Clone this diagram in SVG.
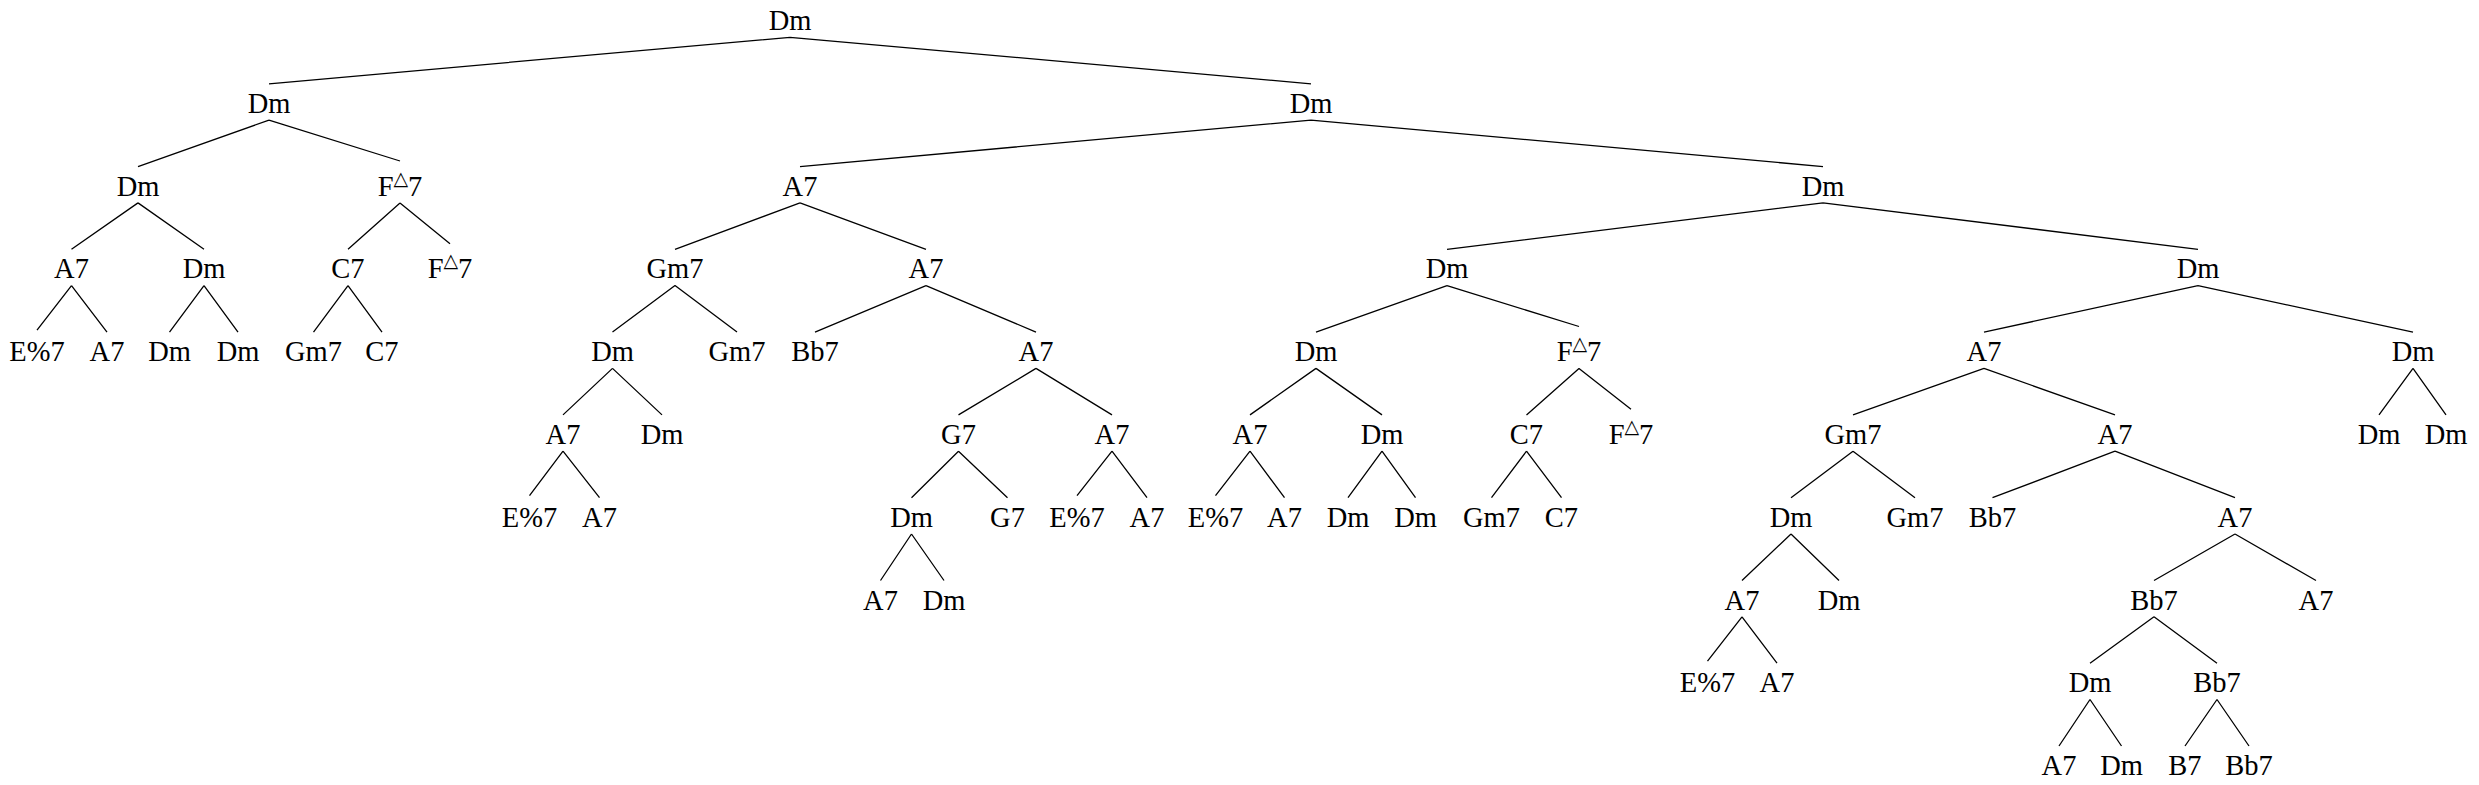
<svg xmlns="http://www.w3.org/2000/svg" width="2479" height="785" viewBox="0 0 2479 785">
<style>
.t{font-family:"Liberation Serif","Times New Roman",serif;font-size:28.5px;text-anchor:middle;fill:#000}
.sup{font-family:"DejaVu Sans",sans-serif;font-size:19px}
.e{stroke:#000;stroke-width:1.3;fill:none;stroke-linecap:butt}
</style>
<rect width="2479" height="785" fill="#fff"/>
<g id="connectors" class="e">
<path d="M790,37.3L269,83.8M790,37.3L1311,83.8"/>
<path d="M269,120.1L138,166.6M269,120.1L400,161"/>
<path d="M1311,120.1L800,166.6M1311,120.1L1823,166.6"/>
<path d="M138,202.9L71.5,249.3M138,202.9L204,249.3"/>
<path d="M400,202.9L348,249.3M400,202.9L450,243.7"/>
<path d="M800,202.9L675,249.3M800,202.9L926,249.3"/>
<path d="M1823,202.9L1447,249.3M1823,202.9L2198,249.3"/>
<path d="M71.5,285.6L37,330.1M71.5,285.6L107,332.1"/>
<path d="M204,285.6L169.5,332.1M204,285.6L238,332.1"/>
<path d="M348,285.6L313.5,332.1M348,285.6L382,332.1"/>
<path d="M675,285.6L612.5,332.1M675,285.6L737,332.1"/>
<path d="M926,285.6L815,332.1M926,285.6L1036,332.1"/>
<path d="M1447,285.6L1316,332.1M1447,285.6L1579,326.5"/>
<path d="M2198,285.6L1984,332.1M2198,285.6L2413,332.1"/>
<path d="M612.5,368.4L563,414.9M612.5,368.4L662,414.9"/>
<path d="M1036,368.4L958.5,414.9M1036,368.4L1112,414.9"/>
<path d="M1316,368.4L1250,414.9M1316,368.4L1382,414.9"/>
<path d="M1579,368.4L1526.5,414.9M1579,368.4L1631,409.3"/>
<path d="M1984,368.4L1853,414.9M1984,368.4L2115,414.9"/>
<path d="M2413,368.4L2379,414.9M2413,368.4L2446,414.9"/>
<path d="M563,451.2L529.5,495.7M563,451.2L599.5,497.7"/>
<path d="M958.5,451.2L911.5,497.7M958.5,451.2L1007.5,497.7"/>
<path d="M1112,451.2L1077,495.7M1112,451.2L1147,497.7"/>
<path d="M1250,451.2L1215.5,495.7M1250,451.2L1284.5,497.7"/>
<path d="M1382,451.2L1348,497.7M1382,451.2L1415.5,497.7"/>
<path d="M1526.5,451.2L1491.5,497.7M1526.5,451.2L1561.5,497.7"/>
<path d="M1853,451.2L1791,497.7M1853,451.2L1915,497.7"/>
<path d="M2115,451.2L1992.5,497.7M2115,451.2L2235,497.7"/>
<path d="M911.5,534L880.5,580.5M911.5,534L944,580.5"/>
<path d="M1791,534L1742,580.5M1791,534L1839,580.5"/>
<path d="M2235,534L2154,580.5M2235,534L2316,580.5"/>
<path d="M1742,616.8L1707.5,661.2M1742,616.8L1777,663.2"/>
<path d="M2154,616.8L2090,663.2M2154,616.8L2217,663.2"/>
<path d="M2090,699.5L2059,746M2090,699.5L2121.5,746"/>
<path d="M2217,699.5L2185,746M2217,699.5L2249,746"/>
</g>
<g id="n0"><text class="t" x="790" y="30">Dm</text></g>
<g id="n1"><text class="t" x="269" y="112.8">Dm</text></g>
<g id="n2"><text class="t" x="1311" y="112.8">Dm</text></g>
<g id="n3"><text class="t" x="138" y="195.6">Dm</text></g>
<g id="n4"><text class="t" x="400" y="195.6">F<tspan class="sup" dy="-11">△</tspan><tspan dy="11">7</tspan></text></g>
<g id="n5"><text class="t" x="800" y="195.6">A7</text></g>
<g id="n6"><text class="t" x="1823" y="195.6">Dm</text></g>
<g id="n7"><text class="t" x="71.5" y="278.3">A7</text></g>
<g id="n8"><text class="t" x="204" y="278.3">Dm</text></g>
<g id="n9"><text class="t" x="348" y="278.3">C7</text></g>
<g id="n10"><text class="t" x="450" y="278.3">F<tspan class="sup" dy="-11">△</tspan><tspan dy="11">7</tspan></text></g>
<g id="n11"><text class="t" x="675" y="278.3">Gm7</text></g>
<g id="n12"><text class="t" x="926" y="278.3">A7</text></g>
<g id="n13"><text class="t" x="1447" y="278.3">Dm</text></g>
<g id="n14"><text class="t" x="2198" y="278.3">Dm</text></g>
<g id="n15"><text class="t" x="37" y="361.1">E%7</text></g>
<g id="n16"><text class="t" x="107" y="361.1">A7</text></g>
<g id="n17"><text class="t" x="169.5" y="361.1">Dm</text></g>
<g id="n18"><text class="t" x="238" y="361.1">Dm</text></g>
<g id="n19"><text class="t" x="313.5" y="361.1">Gm7</text></g>
<g id="n20"><text class="t" x="382" y="361.1">C7</text></g>
<g id="n21"><text class="t" x="612.5" y="361.1">Dm</text></g>
<g id="n22"><text class="t" x="737" y="361.1">Gm7</text></g>
<g id="n23"><text class="t" x="815" y="361.1">Bb7</text></g>
<g id="n24"><text class="t" x="1036" y="361.1">A7</text></g>
<g id="n25"><text class="t" x="1316" y="361.1">Dm</text></g>
<g id="n26"><text class="t" x="1579" y="361.1">F<tspan class="sup" dy="-11">△</tspan><tspan dy="11">7</tspan></text></g>
<g id="n27"><text class="t" x="1984" y="361.1">A7</text></g>
<g id="n28"><text class="t" x="2413" y="361.1">Dm</text></g>
<g id="n29"><text class="t" x="563" y="443.9">A7</text></g>
<g id="n30"><text class="t" x="662" y="443.9">Dm</text></g>
<g id="n31"><text class="t" x="958.5" y="443.9">G7</text></g>
<g id="n32"><text class="t" x="1112" y="443.9">A7</text></g>
<g id="n33"><text class="t" x="1250" y="443.9">A7</text></g>
<g id="n34"><text class="t" x="1382" y="443.9">Dm</text></g>
<g id="n35"><text class="t" x="1526.5" y="443.9">C7</text></g>
<g id="n36"><text class="t" x="1631" y="443.9">F<tspan class="sup" dy="-11">△</tspan><tspan dy="11">7</tspan></text></g>
<g id="n37"><text class="t" x="1853" y="443.9">Gm7</text></g>
<g id="n38"><text class="t" x="2115" y="443.9">A7</text></g>
<g id="n39"><text class="t" x="2379" y="443.9">Dm</text></g>
<g id="n40"><text class="t" x="2446" y="443.9">Dm</text></g>
<g id="n41"><text class="t" x="529.5" y="526.7">E%7</text></g>
<g id="n42"><text class="t" x="599.5" y="526.7">A7</text></g>
<g id="n43"><text class="t" x="911.5" y="526.7">Dm</text></g>
<g id="n44"><text class="t" x="1007.5" y="526.7">G7</text></g>
<g id="n45"><text class="t" x="1077" y="526.7">E%7</text></g>
<g id="n46"><text class="t" x="1147" y="526.7">A7</text></g>
<g id="n47"><text class="t" x="1215.5" y="526.7">E%7</text></g>
<g id="n48"><text class="t" x="1284.5" y="526.7">A7</text></g>
<g id="n49"><text class="t" x="1348" y="526.7">Dm</text></g>
<g id="n50"><text class="t" x="1415.5" y="526.7">Dm</text></g>
<g id="n51"><text class="t" x="1491.5" y="526.7">Gm7</text></g>
<g id="n52"><text class="t" x="1561.5" y="526.7">C7</text></g>
<g id="n53"><text class="t" x="1791" y="526.7">Dm</text></g>
<g id="n54"><text class="t" x="1915" y="526.7">Gm7</text></g>
<g id="n55"><text class="t" x="1992.5" y="526.7">Bb7</text></g>
<g id="n56"><text class="t" x="2235" y="526.7">A7</text></g>
<g id="n57"><text class="t" x="880.5" y="609.5">A7</text></g>
<g id="n58"><text class="t" x="944" y="609.5">Dm</text></g>
<g id="n59"><text class="t" x="1742" y="609.5">A7</text></g>
<g id="n60"><text class="t" x="1839" y="609.5">Dm</text></g>
<g id="n61"><text class="t" x="2154" y="609.5">Bb7</text></g>
<g id="n62"><text class="t" x="2316" y="609.5">A7</text></g>
<g id="n63"><text class="t" x="1707.5" y="692.2">E%7</text></g>
<g id="n64"><text class="t" x="1777" y="692.2">A7</text></g>
<g id="n65"><text class="t" x="2090" y="692.2">Dm</text></g>
<g id="n66"><text class="t" x="2217" y="692.2">Bb7</text></g>
<g id="n67"><text class="t" x="2059" y="775">A7</text></g>
<g id="n68"><text class="t" x="2121.5" y="775">Dm</text></g>
<g id="n69"><text class="t" x="2185" y="775">B7</text></g>
<g id="n70"><text class="t" x="2249" y="775">Bb7</text></g>
</svg>
